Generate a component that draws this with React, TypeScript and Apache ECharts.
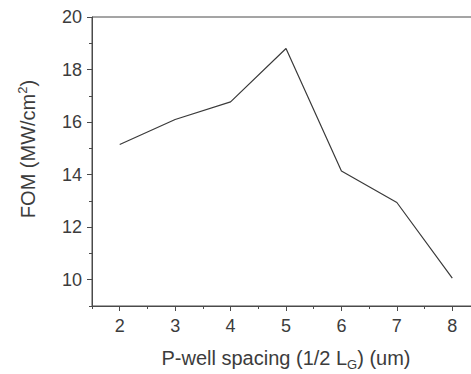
import React, { useEffect, useRef } from "react";
import * as echarts from "echarts";

const xValues = [2, 3, 4, 5, 6, 7, 8];
const fomValues = [15.15, 16.1, 16.77, 18.8, 14.14, 12.94, 10.06];
const xMajorTicks = [2, 3, 4, 5, 6, 7, 8];
const yMajorTicks = [10, 12, 14, 16, 18, 20];

const TEXT = "#3c3c3c";
const AXIS = "#4a4a4a";
const FONT = "Liberation Sans, Arial, sans-serif";

export default function App() {
  const ref = useRef<HTMLDivElement>(null);
  useEffect(() => {
    document.body.style.margin = "0";
    const chart = echarts.init(ref.current!, null, { renderer: "svg" });
    const seriesData = xValues.map((x, i) => [x, fomValues[i]]);
    chart.setOption({
      animation: false,
      backgroundColor: "#ffffff",
      grid: {
        left: 92,
        top: 17,
        bottom: 68,
        right: -9,
        outerBoundsMode: "none",
        containLabel: false,
        show: true,
        borderColor: AXIS,
        borderWidth: 1,
      },
      xAxis: [
        {
          type: "value",
          min: 1.5,
          max: 8.5,
          position: "bottom",
          axisLine: { show: true, lineStyle: { color: AXIS, width: 1 } },
          axisTick: {
            show: true,
            inside: false,
            length: 5,
            customValues: xMajorTicks,
            lineStyle: { color: AXIS },
          },
          axisLabel: {
            show: true,
            customValues: xMajorTicks,
            margin: 11,
            color: TEXT,
            fontSize: 18,
            fontFamily: FONT,
          },
          splitLine: { show: false },
          name: "P-well spacing (1/2 L{sub|G}) (um)",
          nameLocation: "middle",
          nameGap: 39,
          nameTextStyle: {
            color: TEXT,
            fontSize: 20,
            fontFamily: FONT,
            rich: {
              sub: { fontSize: 13, fontFamily: FONT, color: TEXT, verticalAlign: "bottom", padding: [13, 0, 0, 0] },
            },
          },
        },
        {
          type: "value",
          min: 1.5,
          max: 8.5,
          interval: 0.5,
          position: "bottom",
          axisLine: { show: false },
          axisTick: { show: true, inside: false, length: 3, lineStyle: { color: AXIS } },
          axisLabel: { show: false },
          splitLine: { show: false },
        },
      ],
      yAxis: [
        {
          type: "value",
          min: 9,
          max: 20,
          position: "left",
          axisLine: { show: true, lineStyle: { color: AXIS, width: 1 } },
          axisTick: {
            show: true,
            inside: false,
            length: 5,
            customValues: yMajorTicks,
            lineStyle: { color: AXIS },
          },
          axisLabel: {
            show: true,
            customValues: yMajorTicks,
            margin: 10,
            color: TEXT,
            fontSize: 18,
            fontFamily: FONT,
          },
          splitLine: { show: false },
        },
        {
          type: "value",
          min: 9,
          max: 20,
          interval: 1,
          position: "left",
          axisLine: { show: false },
          axisTick: { show: true, inside: false, length: 3, lineStyle: { color: AXIS } },
          axisLabel: { show: false },
          splitLine: { show: false },
        },
      ],
      graphic: [
        {
          type: "text",
          x: 28,
          y: 149,
          rotation: Math.PI / 2,
          style: {
            text: "FOM (MW/cm{sup|2})",
            fill: TEXT,
            fontSize: 20,
            fontFamily: FONT,
            align: "center",
            verticalAlign: "middle",
            rich: {
              sup: { fontSize: 13, fontFamily: FONT, fill: TEXT, verticalAlign: "top", padding: [0, 0, 12, 0] },
            },
          },
        },
      ],
      series: [
        {
          type: "line",
          xAxisIndex: 0,
          yAxisIndex: 0,
          data: seriesData,
          symbol: "none",
          lineStyle: { color: "#3a3a3a", width: 1.2 },
        },
      ],
    });
    return () => chart.dispose();
  }, []);
  return <div ref={ref} style={{ width: 471, height: 374 }} />;
}
